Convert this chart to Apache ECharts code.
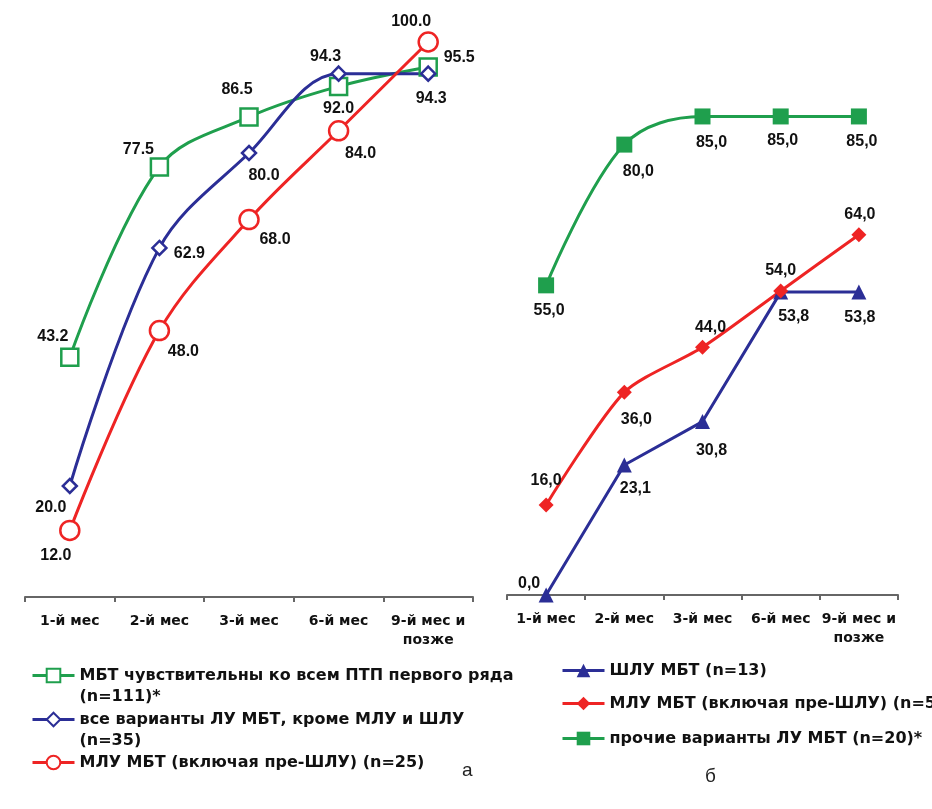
<!DOCTYPE html>
<html>
<head>
<meta charset="utf-8">
<script src="https://cdn.jsdelivr.net/npm/echarts@6/dist/echarts.min.js"></script>
<style>
html,body{margin:0;padding:0;background:#fff;}
#chart{width:932px;height:809px;}
</style>
</head>
<body>
<div id="chart"></div>
<script>
// ---- data ----
const categories = ['1-й мес', '2-й мес', '3-й мес', '6-й мес', '9-й мес и\nпозже'];

// panel а
const nameSensA = 'МБТ чувствительны ко всем ПТП первого ряда (n=111)*';
const nameOtherA = 'все варианты ЛУ МБТ, кроме МЛУ и ШЛУ (n=35)';
const nameMdrA = 'МЛУ МБТ (включая пре-ШЛУ) (n=25)';
const sensA = [43.2, 77.5, 86.5, 92.0, 95.5];
const otherA = [20.0, 62.9, 80.0, 94.3, 94.3];
const mdrA = [12.0, 48.0, 68.0, 84.0, 100.0];

// panel б
const nameXdrB = 'ШЛУ МБТ (n=13)';
const nameMdrB = 'МЛУ МБТ (включая пре-ШЛУ) (n=50)';
const nameOtherB = 'прочие варианты ЛУ МБТ (n=20)*';
const xdrB = [0.0, 23.1, 30.8, 53.8, 53.8];
const mdrB = [16.0, 36.0, 44.0, 54.0, 64.0];
const otherB = [55.0, 80.0, 85.0, 85.0, 85.0];

// ---- styles ----
const GREEN = '#1f9f4d', BLUE = '#2b2e96', RED = '#ee2424';
const FONT = 'Liberation Sans';
const WIDEFONT = 'DejaVu Sans';
const labelOffsets = {
  sensA: [[-17,-21],[-21,-17],[-12,-27],[0,22],[31,-9]],
  otherA: [[-19,22],[30,6],[15,23],[-13,-17],[3,25]],
  mdrA: [[-14,25],[24,21],[26,20],[22,23],[-17,-20]],
  xdrB: [[-17,-11],[11,24],[9,29],[13,24],[1,25]],
  mdrB: [[0,-24],[12,27],[8,-20],[0,-20],[1,-20]],
  otherB: [[3,25],[14,27],[9,26],[2,24],[3,25]]
};

function withLabels(values, offsets) {
  return values.map((v, i) => ({
    value: v,
    label: { offset: offsets[i] }
  }));
}
function labelCfg(comma) {
  return {
    show: true, position: 'inside', color: '#111', fontSize: 16,
    fontWeight: 'bold', fontFamily: FONT,
    formatter: p => { const s = Number(p.value).toFixed(1); return comma ? s.replace('.', ',') : s; }
  };
}
function lineSeries(name, values, key, idx, color, symbol, size, hollow, smooth, comma) {
  return {
    name: name, type: 'line', xAxisIndex: idx, yAxisIndex: idx,
    data: withLabels(values, labelOffsets[key]),
    smooth: smooth, symbol: symbol, symbolSize: size,
    lineStyle: { color: color, width: 3 },
    itemStyle: hollow ? { color: '#fff', borderColor: color, borderWidth: 2.5 } : { color: color, borderColor: color, borderWidth: 0 },
    label: labelCfg(comma),
    emphasis: { disabled: true },
    z: 2
  };
}

// legend display text: a blank first line keeps the icon level with the first text line
const legendText = {};
legendText[nameSensA] = ' \nМБТ чувствительны ко всем ПТП первого ряда\n(n=111)*';
legendText[nameOtherA] = ' \nвсе варианты ЛУ МБТ, кроме МЛУ и ШЛУ\n(n=35)';

function legend(name, left, top) {
  return {
    data: [name], left: left, top: top, orient: 'vertical', padding: 0,
    itemWidth: 42, itemHeight: 17, itemGap: 0,
    selectedMode: false,
    lineStyle: { width: 3 },
    formatter: n => legendText[n] || n,
    textStyle: { fontSize: 16, fontWeight: 'bold', color: '#111', fontFamily: WIDEFONT, lineHeight: 21 }
  };
}

const xAxisCommon = {
  type: 'category', data: categories, boundaryGap: true,
  axisLine: { lineStyle: { color: '#666', width: 2 } },
  axisTick: { show: true, length: 5, lineStyle: { color: '#666', width: 2 } },
  axisLabel: { interval: 0, color: '#111', fontSize: 14, fontWeight: 'bold', fontFamily: WIDEFONT, margin: 15, lineHeight: 19 },
  splitLine: { show: false }
};
const yAxisCommon = { type: 'value', min: 0, max: 100, show: false, splitLine: { show: false } };

const option = {
  animation: false,
  backgroundColor: '#fff',
  grid: [
    { left: 25, width: 448, top: 42, height: 555 },
    { left: 507, width: 391, top: 32, height: 563 }
  ],
  xAxis: [Object.assign({ gridIndex: 0 }, xAxisCommon), Object.assign({ gridIndex: 1 }, xAxisCommon)],
  yAxis: [Object.assign({ gridIndex: 0 }, yAxisCommon), Object.assign({ gridIndex: 1 }, yAxisCommon)],
  legend: [
    legend(nameSensA, 31, 644),
    legend(nameOtherA, 31, 688),
    legend(nameMdrA, 31, 752),
    legend(nameXdrB, 561, 660),
    legend(nameMdrB, 561, 693),
    legend(nameOtherB, 561, 728)
  ],
  graphic: [
    { type: 'text', left: 462, top: 761, style: { text: 'а', fontSize: 19, fill: '#222', fontFamily: FONT } },
    { type: 'text', left: 705, top: 767, style: { text: 'б', fontSize: 19, fill: '#222', fontFamily: FONT } }
  ],
  series: [
    lineSeries(nameSensA, sensA, 'sensA', 0, GREEN, 'rect', 17, true, 0.35, false),
    lineSeries(nameOtherA, otherA, 'otherA', 0, BLUE, 'diamond', 14, true, 0.35, false),
    lineSeries(nameMdrA, mdrA, 'mdrA', 0, RED, 'circle', 19, true, 0.35, false),
    lineSeries(nameXdrB, xdrB, 'xdrB', 1, BLUE, 'triangle', 15, false, false, true),
    lineSeries(nameMdrB, mdrB, 'mdrB', 1, RED, 'diamond', 15, false, 0.25, true),
    lineSeries(nameOtherB, otherB, 'otherB', 1, GREEN, 'rect', 16, false, 0.35, true)
  ]
};

const chart = echarts.init(document.getElementById('chart'), null, { renderer: 'canvas' });
chart.setOption(option);
</script>
</body>
</html>
